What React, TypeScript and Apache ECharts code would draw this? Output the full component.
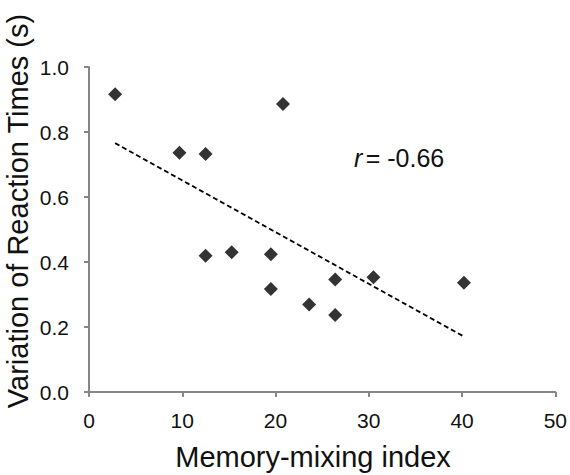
import React, { useEffect, useRef } from "react";
import * as echarts from "echarts";

const mixingIndex = [2.8, 9.7, 12.5, 20.8, 12.5, 15.3, 19.5, 19.5, 23.6, 26.4, 26.4, 30.5, 40.2];
const rtVariation = [0.916, 0.736, 0.732, 0.886, 0.419, 0.43, 0.424, 0.317, 0.269, 0.346, 0.237, 0.353, 0.336];
const xTitle = "Memory-mixing index";
const yTitle = "Variation of Reaction Times (s)";
const rLabel = "= -0.66";

function regressionLine(xs: number[], ys: number[]) {
  const n = xs.length;
  const mx = xs.reduce((a, b) => a + b, 0) / n;
  const my = ys.reduce((a, b) => a + b, 0) / n;
  let sxy = 0, sxx = 0;
  for (let i = 0; i < n; i++) {
    sxy += (xs[i] - mx) * (ys[i] - my);
    sxx += (xs[i] - mx) ** 2;
  }
  const slope = sxy / sxx;
  const icpt = my - slope * mx;
  const x0 = Math.min(...xs);
  const x1 = Math.max(...xs);
  return [[x0, icpt + slope * x0], [x1, icpt + slope * x1]];
}

export default function App() {
  const ref = useRef<HTMLDivElement>(null);
  useEffect(() => {
    if (!ref.current) return;
    const chart = echarts.init(ref.current, null, { renderer: "svg" });
    const font = "'Liberation Sans', Arial, sans-serif";
    const axisColor = "#868686";
    const textColor = "#111111";
    chart.setOption({
      animation: false,
      backgroundColor: "#ffffff",
      grid: { left: 89, right: 13, top: 67, bottom: 83, containLabel: false },
      xAxis: {
        type: "value",
        min: 0,
        max: 50,
        interval: 10,
        splitLine: { show: false },
        axisLine: { show: true, onZero: false, lineStyle: { color: axisColor, width: 2 } },
        axisTick: { show: true, inside: false, length: 5, lineStyle: { color: axisColor, width: 2 } },
        axisLabel: { color: textColor, fontSize: 21, fontFamily: font, margin: 18 },
      },
      yAxis: {
        type: "value",
        min: 0,
        max: 1,
        interval: 0.2,
        splitLine: { show: false },
        axisLine: { show: true, onZero: false, lineStyle: { color: axisColor, width: 2 } },
        axisTick: { show: true, inside: false, length: 5, lineStyle: { color: axisColor, width: 2 } },
        axisLabel: {
          color: textColor,
          fontSize: 21,
          fontFamily: font,
          margin: 20,
          formatter: (v: number) => v.toFixed(1),
        },
      },
      graphic: [
        {
          type: "text",
          x: 313,
          y: 457,
          style: {
            text: xTitle,
            fill: textColor,
            font: `29px ${font}`,
            align: "center",
            verticalAlign: "middle",
          },
        },
        {
          type: "text",
          x: 18,
          y: 211,
          rotation: Math.PI / 2,
          style: {
            text: yTitle,
            fill: textColor,
            font: `29px ${font}`,
            align: "center",
            verticalAlign: "middle",
          },
        },
        {
          type: "text",
          x: 354,
          y: 158,
          style: {
            text: "{i|r} {n|" + rLabel + "}",
            fill: textColor,
            verticalAlign: "middle",
            align: "left",
            rich: {
              i: { fontStyle: "italic", fontSize: 25, fontFamily: font, fill: textColor },
              n: { fontSize: 25, fontFamily: font, fill: textColor },
            },
          },
        },
      ],
      series: [
        {
          type: "line",
          data: regressionLine(mixingIndex, rtVariation),
          symbol: "none",
          lineStyle: { color: "#000000", width: 1.8, type: [5, 3] },
          z: 1,
        },
        {
          type: "scatter",
          data: mixingIndex.map((x, i) => [x, rtVariation[i]]),
          symbol: "diamond",
          symbolSize: 14,
          itemStyle: { color: "#000000" },
          z: 3,
        },
      ],
    });
    return () => chart.dispose();
  }, []);
  return <div ref={ref} style={{ width: 570, height: 475, position: "absolute", left: 0, top: 0 }} />;
}
